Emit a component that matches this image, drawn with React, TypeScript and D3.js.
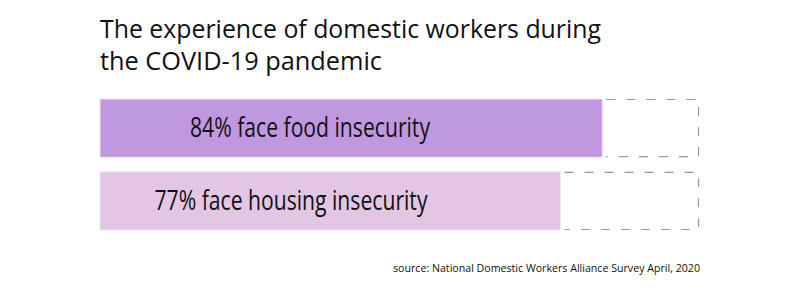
import React from "react";
import * as d3 from "d3";

const categories = ["food insecurity", "housing insecurity"];
const values = [84, 77];
const labels = ["84% face food insecurity", "77% face housing insecurity"];
const colors = ["#C098DF", "#E3C6E4"];
const titleLines = ["The experience of domestic workers during", "the COVID-19 pandemic"];
const source = "source: National Domestic Workers Alliance Survey April, 2020";

export default function App() {
  const W = 800, H = 300;
  const x = d3.scaleLinear().domain([0, 100]).range([100, 698]);
  const y = d3.scaleBand().domain(categories).range([99, 230]).paddingInner(0.2).paddingOuter(0);
  const font = "'Open Sans', 'Noto Sans', sans-serif";
  const labelCenters = [310, 291];
  return (
    <svg width={W} height={H} style={{ position: "absolute", left: 0, top: 0 }}>
      <rect width={W} height={H} fill="#fff" />
      {titleLines.map((t, i) => (
        <text key={i} x={100} y={38 + i * 32} fontFamily={font} fontSize={25.5} fill="#111"
          textLength={i === 0 ? 501 : 282} lengthAdjust="spacingAndGlyphs">{t}</text>
      ))}
      {categories.map((c, i) => {
        const y0 = y(c)!;
        const h = y.bandwidth();
        const x1 = x(values[i]);
        const x2 = x(100);
        return (
          <g key={c}>
            <path d={`M${x1 + 4},${y0 + 0.5}H${x2 + 0.5}V${y0 + h - 0.5}H${x1 + 4}`} fill="none" stroke="#9a9a9a" strokeWidth={1.2} strokeDasharray="9,11" />
            <rect x={x(0)} y={y0} width={x1 - x(0)} height={h} fill={colors[i]} stroke="#F0E4F4" strokeWidth={1} />
            <text x={labelCenters[i]} y={y0 + h / 2 + 9} textAnchor="middle" fontFamily={font} fontSize={26.5} fill="#111"
              textLength={i === 0 ? 240 : 273} lengthAdjust="spacingAndGlyphs">{labels[i]}</text>
          </g>
        );
      })}
      <text x={700} y={272} textAnchor="end" fontFamily={font} fontSize={11.5} fill="#111"
        textLength={307} lengthAdjust="spacingAndGlyphs">{source}</text>
    </svg>
  );
}
